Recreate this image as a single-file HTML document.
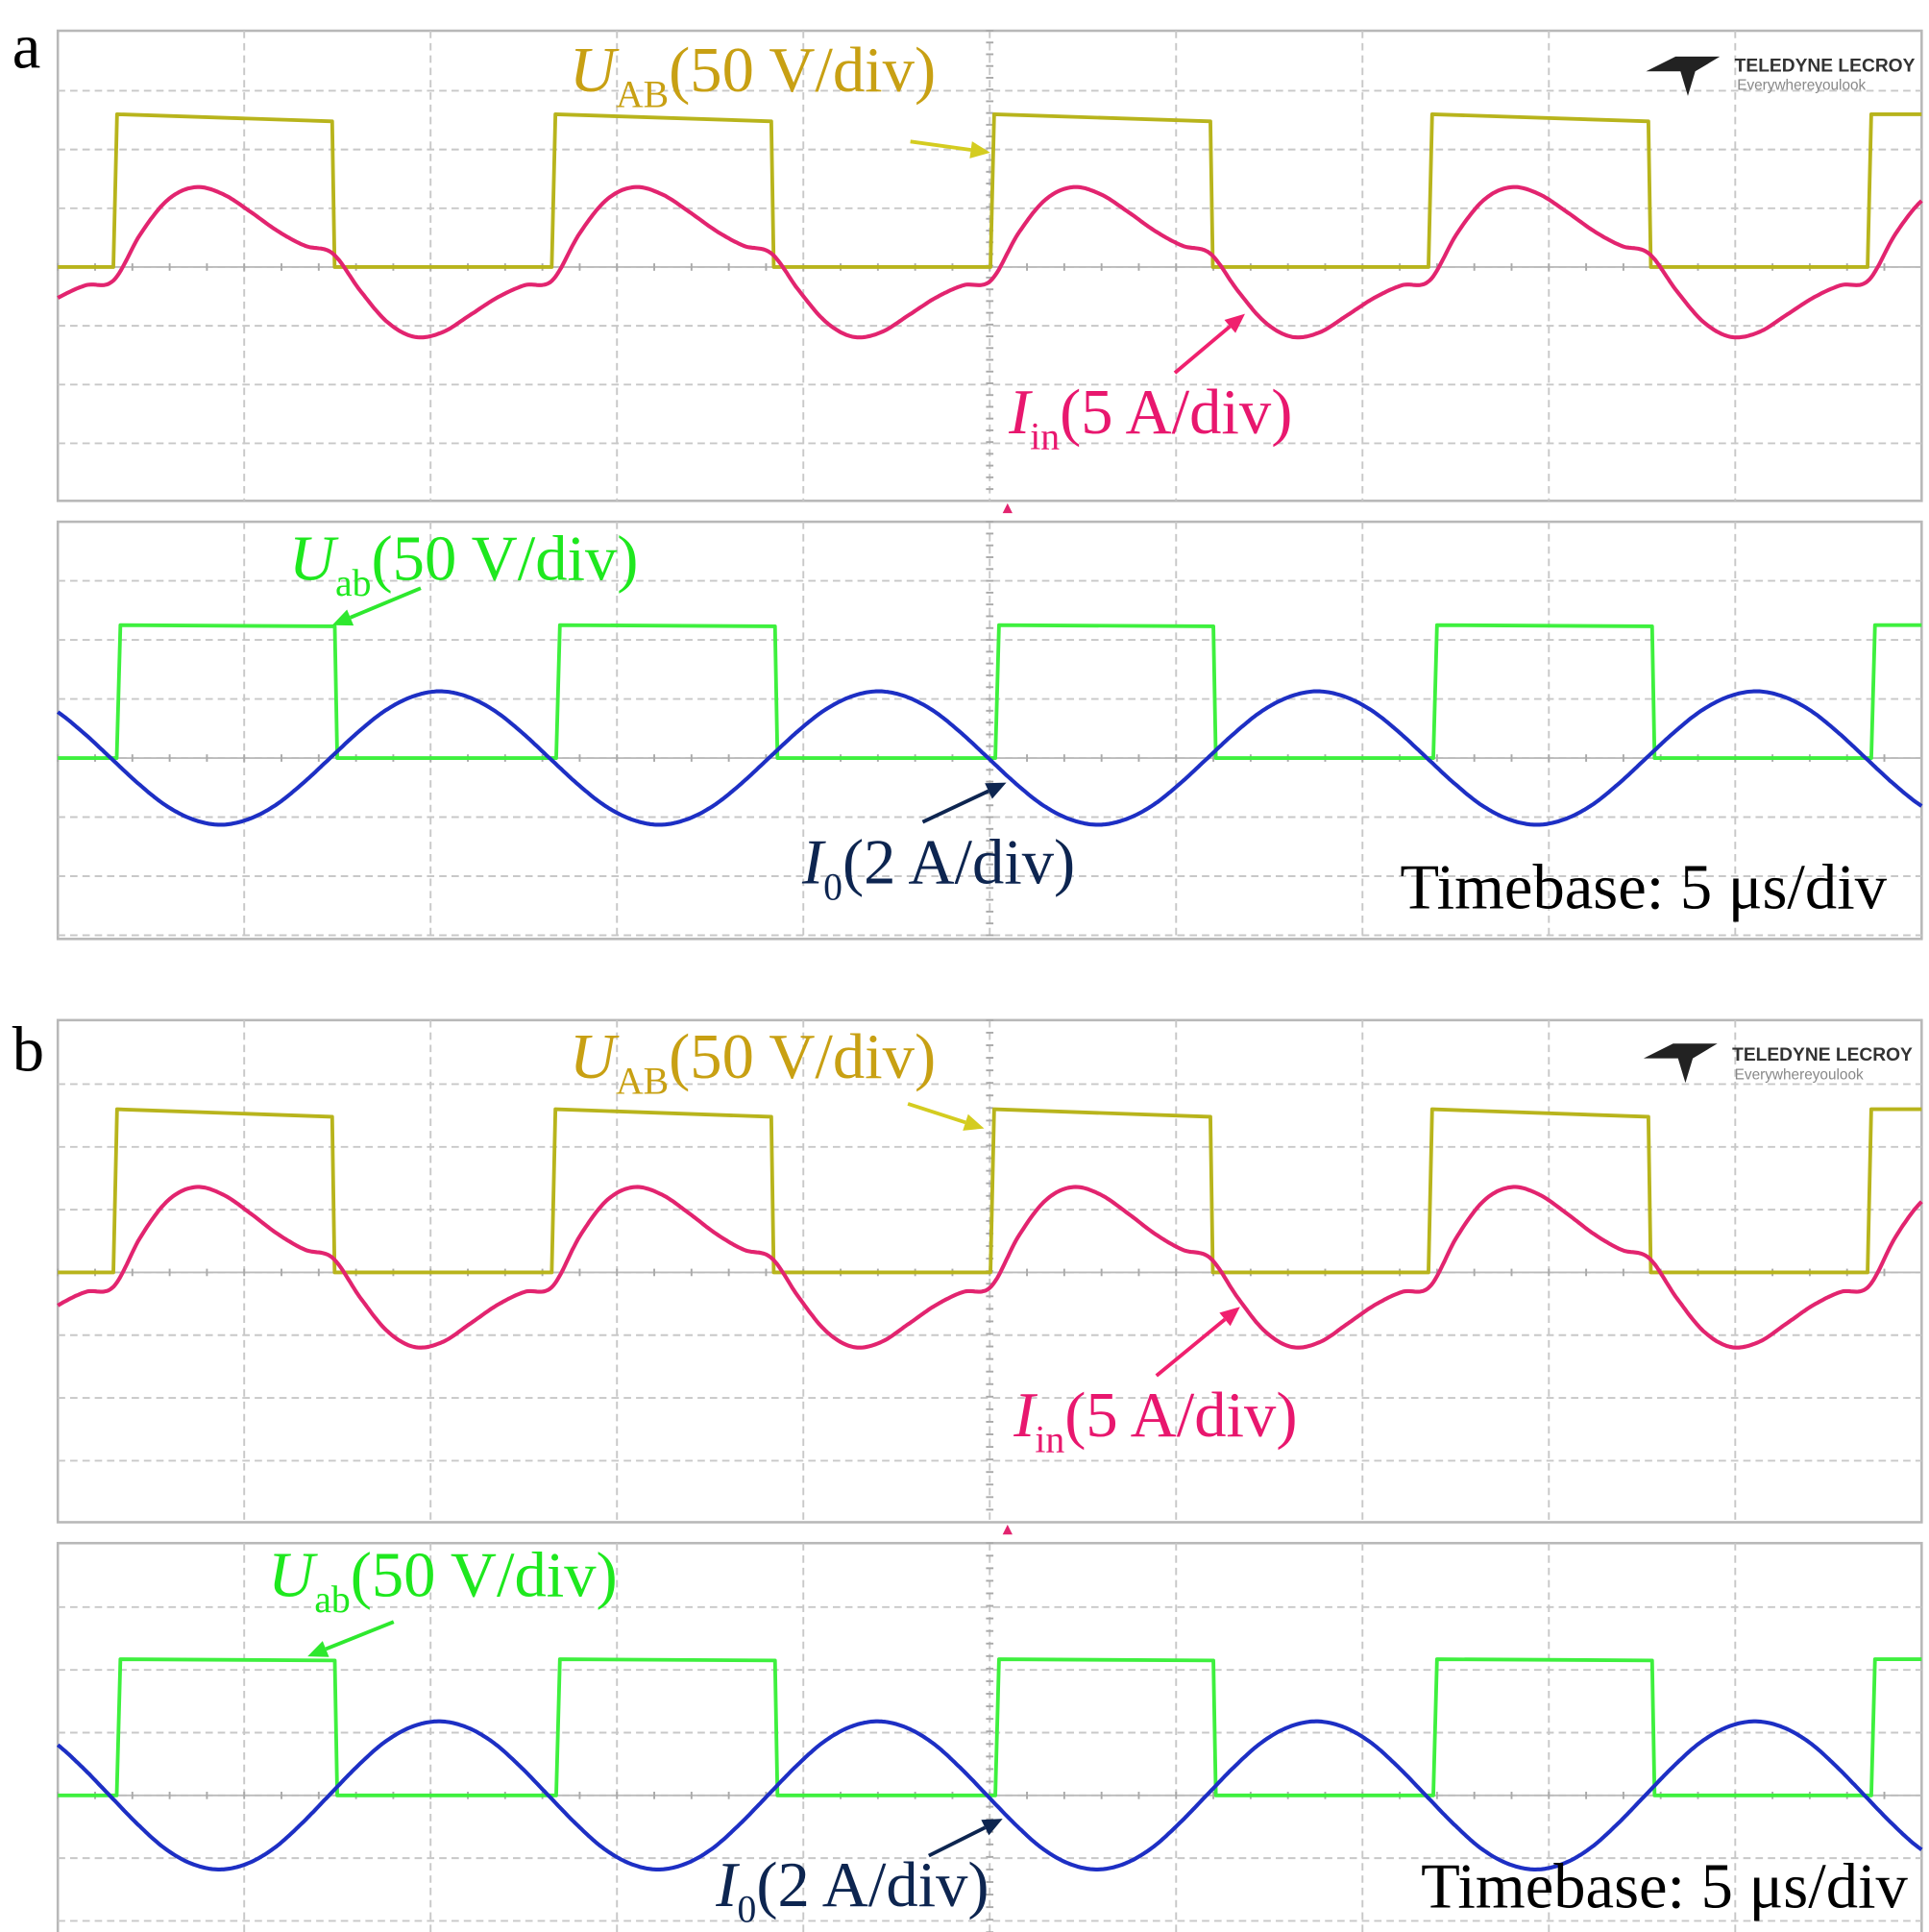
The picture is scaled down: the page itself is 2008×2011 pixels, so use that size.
<!DOCTYPE html>
<html><head><meta charset="utf-8"><style>
html,body{margin:0;padding:0;background:#fff;}
svg{display:block;}
text{font-family:"Liberation Serif",serif;}
</style></head><body>
<svg id="fig" width="2008" height="2011" viewBox="0 0 1568 1570" preserveAspectRatio="none" xmlns="http://www.w3.org/2000/svg">
<g id="grids"></g>
<g id="traces"></g>
<g id="labels">
  <text x="10" y="55" font-size="52" fill="#000">a</text>
  <text x="10" y="870" font-size="52" fill="#000">b</text>

  <text x="463" y="74" font-size="52" fill="#c8a013"><tspan font-style="italic">U</tspan><tspan font-size="31" dy="13">AB</tspan><tspan dy="-13">(50 V/div)</tspan></text>
  <text x="820" y="352" font-size="52" fill="#e8176e"><tspan font-style="italic">I</tspan><tspan font-size="31" dy="13">in</tspan><tspan dy="-13">(5 A/div)</tspan></text>
  <text x="235" y="471" font-size="52" fill="#1ee81e"><tspan font-style="italic">U</tspan><tspan font-size="31" dy="13">ab</tspan><tspan dy="-13">(50 V/div)</tspan></text>
  <text x="652" y="718" font-size="52" fill="#0d2550"><tspan font-style="italic">I</tspan><tspan font-size="31" dy="13">0</tspan><tspan dy="-13">(2 A/div)</tspan></text>
  <text x="1138" y="738" font-size="52" fill="#000">Timebase: 5 μs/div</text>

  <text x="463" y="876" font-size="52" fill="#c8a013"><tspan font-style="italic">U</tspan><tspan font-size="31" dy="13">AB</tspan><tspan dy="-13">(50 V/div)</tspan></text>
  <text x="824" y="1167" font-size="52" fill="#e8176e"><tspan font-style="italic">I</tspan><tspan font-size="31" dy="13">in</tspan><tspan dy="-13">(5 A/div)</tspan></text>
  <text x="218" y="1297" font-size="52" fill="#1ee81e"><tspan font-style="italic">U</tspan><tspan font-size="31" dy="13">ab</tspan><tspan dy="-13">(50 V/div)</tspan></text>
  <text x="582" y="1549" font-size="52" fill="#0d2550"><tspan font-style="italic">I</tspan><tspan font-size="31" dy="13">0</tspan><tspan dy="-13">(2 A/div)</tspan></text>
  <text x="1155" y="1550" font-size="52" fill="#000">Timebase: 5 μs/div</text>
</g>
<g id="arrows" stroke-width="3"></g>
<g>
  <polygon points="1338,58 1362,46 1398,46 1378,58 1372,78 1366,58" fill="#222"/>
  <text x="1410" y="58" font-size="15" font-weight="bold" fill="#333" style="font-family:'Liberation Sans',sans-serif">TELEDYNE LECROY</text>
  <text x="1412" y="73" font-size="12" fill="#888" style="font-family:'Liberation Sans',sans-serif">Everywhereyoulook</text>
</g>
<g>
  <polygon points="1336,860 1360,848 1396,848 1376,860 1370,880 1364,860" fill="#222"/>
  <text x="1408" y="862" font-size="15" font-weight="bold" fill="#333" style="font-family:'Liberation Sans',sans-serif">TELEDYNE LECROY</text>
  <text x="1410" y="877" font-size="12" fill="#888" style="font-family:'Liberation Sans',sans-serif">Everywhereyoulook</text>
</g>
</svg>
<script>
// ---- data (time in µs, amplitude in divisions) ----
const uABRiseA = [1.49, 13.25, 25.02, 36.77, 48.55];
const uABFallA = [7.36, 19.14, 30.92, 42.67];
const uABHigh = [2.6, 2.48];
const uabRise = [1.58, 13.37, 25.15, 36.9, 48.65];
const uabFall = [7.43, 19.24, 31.0, 42.77];
const uabHighA = [2.25, 2.23];
const uabHighB = [2.17, 2.15];
const period = 11.77;
const iinT0 = 1.49;
const iinVals = [-0.23,0.57,1.15,1.36,1.24,0.94,0.61,0.36,0.23,-0.4,-0.94,-1.19,-1.11,-0.82,-0.52,-0.31];
const ioT0A = 1.42, ioT0B = 1.39;
const ioValsA = [0,-0.43,-0.8,-1.04,-1.13,-1.04,-0.8,-0.43,0,0.43,0.8,1.04,1.13,1.04,0.8,0.43];
const ioValsB = [0,-0.45,-0.84,-1.09,-1.18,-1.09,-0.84,-0.45,0,0.45,0.84,1.09,1.18,1.09,0.84,0.45];

const NS="http://www.w3.org/2000/svg";
const X0=47, X1=1562, tMax=50;
function xs(t){return X0+(t/tMax)*(X1-X0);}
function mk(tag,attrs,parent){const e=document.createElementNS(NS,tag);for(const k in attrs)e.setAttribute(k,attrs[k]);parent.appendChild(e);return e;}
const grids=document.getElementById('grids'), traces=document.getElementById('traces'), arrows=document.getElementById('arrows');

function panel(name, top, bottom, div, zeroY){
  const g=mk('g',{},grids);
  
  
  mk('rect',{x:X0,y:top,width:X1-X0,height:bottom-top,fill:'#fff',stroke:'#b8b8b8','stroke-width':2},g);
  for(let i=1;i<10;i++){const x=X0+i*(X1-X0)/10;mk('line',{x1:x,y1:top,x2:x,y2:bottom,stroke:'#c8c8c8','stroke-width':1.5,'stroke-dasharray':'6 4'},g);}
  for(let y=zeroY-div*8;y<bottom;y+=div){if(y<=top+2)continue;mk('line',{x1:X0,y1:y,x2:X1,y2:y,stroke:'#c8c8c8','stroke-width':1.5,'stroke-dasharray':'6 4'},g);}
  mk('line',{x1:X0,y1:zeroY,x2:X1,y2:zeroY,stroke:'#bbb','stroke-width':1.5},g);
  for(let i=0;i<50;i++){const x=X0+i*(X1-X0)/50;mk('line',{x1:x,y1:zeroY-3,x2:x,y2:zeroY+3,stroke:'#aaa','stroke-width':1.5},g);}
  const cx=X0+5*(X1-X0)/10;
  for(let y=top;y<bottom;y+=div/5){mk('line',{x1:cx-3,y1:y,x2:cx+3,y2:y,stroke:'#aaa','stroke-width':1.5},g);}
}

function square(name,rises,falls,high,zeroY,div,color){
  let d=`M${X0},${zeroY}`;
  let evs=[];rises.forEach(t=>evs.push([t,1]));falls.forEach(t=>evs.push([t,0]));evs.sort((a,b)=>a[0]-b[0]);
  evs.forEach(([t,up])=>{
    if(up){d+=` L${xs(t)},${zeroY} L${xs(t)+3},${zeroY-high[0]*div}`;}
    else{d+=` L${xs(t)},${zeroY-high[1]*div} L${xs(t)+2},${zeroY}`;}
  });
  const lastUp=evs[evs.length-1][1];
  d+= lastUp?` L${X1},${zeroY-high[0]*div}`:` L${X1},${zeroY}`;
  const p=mk('path',{d:d,fill:'none',stroke:color,'stroke-width':3,'stroke-linejoin':'round'},traces);
  
  
}

function periodicVal(vals,t0,t){
  const N=vals.length;let ph=(((t-t0)/period)%1+1)%1*N;const i=Math.floor(ph),f=ph-i;
  const p0=vals[(i-1+N)%N],p1=vals[i%N],p2=vals[(i+1)%N],p3=vals[(i+2)%N];
  return 0.5*((2*p1)+(-p0+p2)*f+(2*p0-5*p1+4*p2-p3)*f*f+(-p0+3*p1-3*p2+p3)*f*f*f);
}
function wave(name,vals,t0,zeroY,div,color){
  let d='';
  for(let t=0;t<=tMax;t+=0.05){d+=(d?' L':'M')+xs(t).toFixed(1)+','+(zeroY-periodicVal(vals,t0,t)*div).toFixed(1);}
  const p=mk('path',{d:d,fill:'none',stroke:color,'stroke-width':3.2,'stroke-linejoin':'round'},traces);
  
  
}
function arrow(name,x1,y1,x2,y2,color){
  const g=mk('g',{},arrows);
  
  
  const a=Math.atan2(y2-y1,x2-x1),L=16,W=7;
  const bx=x2-L*Math.cos(a),by=y2-L*Math.sin(a);
  mk('line',{x1:x1,y1:y1,x2:bx,y2:by,stroke:color,'stroke-width':3},g);
  mk('polygon',{points:`${x2},${y2} ${bx+W*Math.sin(a)},${by-W*Math.cos(a)} ${bx-W*Math.sin(a)},${by+W*Math.cos(a)}`,fill:color},g);
}

panel('panel-a-top-grid',25,407,47.75,217);
panel('panel-a-bottom-grid',424,763,48,616);
panel('panel-b-top-grid',829,1237,51,1034);
panel('panel-b-bottom-grid',1254,1572,51,1459);

square('uAB-trace-a',uABRiseA,uABFallA,uABHigh,217,47.75,'#b8b41c');
wave('iin-trace-a',iinVals,iinT0,217,47.75,'#e2246f');
square('uab-trace-a',uabRise,uabFall,uabHighA,616,48,'#3ef03e');
wave('io-trace-a',ioValsA,ioT0A,616,48,'#1d2fc4');

square('uAB-trace-b',uABRiseA,uABFallA,uABHigh,1034,51,'#b8b41c');
wave('iin-trace-b',iinVals,iinT0,1034,51,'#e2246f');
square('uab-trace-b',uabRise,uabFall,uabHighB,1459,51,'#3ef03e');
wave('io-trace-b',ioValsB,ioT0B,1459,51,'#1d2fc4');

arrow('uAB-arrow-a',740,115,805,124,'#d4cc20');
arrow('iin-arrow-a',955,303,1012,255,'#f0206e');
arrow('uab-arrow-a',342,478,270,508,'#2ee82e');
arrow('io-arrow-a',750,668,818,636,'#0d2550');
arrow('uAB-arrow-b',738,897,800,917,'#d4cc20');
arrow('iin-arrow-b',940,1118,1008,1062,'#f0206e');
arrow('uab-arrow-b',320,1318,250,1346,'#2ee82e');
arrow('io-arrow-b',755,1508,815,1478,'#0d2550');

[[819,413],[819,1243]].forEach(([x,y])=>{
  const p=mk('polygon',{points:`${x-4},${y+4} ${x+4},${y+4} ${x},${y-4}`,fill:'#e2246f'},traces);
  
  
});
</script>
</body></html>
